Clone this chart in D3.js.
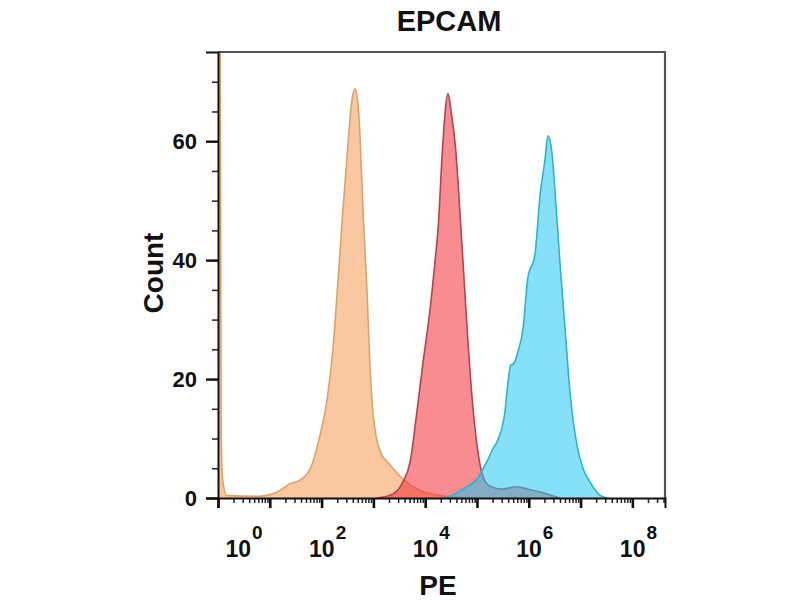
<!DOCTYPE html>
<html>
<head>
<meta charset="utf-8">
<script src="https://cdn.jsdelivr.net/npm/d3@7"></script>
<style>
  body { margin: 0; background: #fff; }
  text { font-family: "Liberation Sans", Arial, sans-serif; font-weight: bold; fill: #111; }
</style>
</head>
<body>
<div id="chart"></div>
<script>
// Histogramas EPCAM (PE), eje x en log10(PE)

const titulo = "EPCAM"
const tituloX = "PE"
const tituloY = "Count"

// muestra 1 (naranja)
const naranjaLogPE = [0, 0.04, 0.06, 0.09, 0.17, 0.81, 1.14, 1.39, 1.58, 1.78, 1.97, 2.10, 2.22, 2.32, 2.41, 2.51, 2.58, 2.645, 2.71, 2.74, 2.80, 2.88, 2.93, 2.99, 3.13, 3.32, 3.57, 3.84, 4.23, 4.86]
const naranjaCount = [90, 90, 12, 3, 0.4, 0.3, 1.0, 2.4, 3.0, 4.9, 10.6, 16.2, 25.1, 36.9, 48.2, 59.5, 66.5, 68.8, 65.5, 61.2, 48.2, 34.2, 22.9, 14.5, 7.8, 5.6, 3.2, 1.5, 0.5, 0]

// muestra 2 (rojo)
const rojoLogPE = [3.07, 3.38, 3.57, 3.71, 3.84, 3.96, 4.09, 4.19, 4.25, 4.34, 4.44, 4.50, 4.59, 4.65, 4.73, 4.81, 4.90, 5.00, 5.12, 5.25, 5.50, 5.77, 5.97, 6.22, 6.41, 6.60]
const rojoCount = [0, 0.7, 2.7, 6.1, 14.5, 22.9, 31.4, 39.8, 45.4, 59.5, 68.0, 65.0, 58.5, 51.0, 39.8, 28.5, 17.4, 8.9, 3.5, 2.0, 1.5, 1.9, 1.5, 1.0, 0.5, 0]

// muestra 3 (azul)
const azulLogPE = [4.38, 4.54, 4.73, 5.00, 5.19, 5.31, 5.41, 5.54, 5.60, 5.65, 5.71, 5.79, 5.89, 5.98, 6.12, 6.22, 6.31, 6.37, 6.45, 6.51, 6.60, 6.70, 6.80, 6.93, 7.05, 7.18, 7.37, 7.51]
const azulCount = [0, 0.5, 1.5, 3.2, 6.1, 8.3, 9.9, 14.5, 19.5, 22.3, 22.6, 24.6, 28.5, 36.9, 41.0, 51.1, 56.7, 60.9, 57.8, 51.1, 39.8, 28.5, 17.4, 8.9, 4.9, 2.7, 0.5, 0]

const yTicks = [0, 20, 40, 60]
const xDecadas = [0, 1, 2, 3, 4, 5, 6, 7, 8]
const xEtiquetas = [0, 2, 4, 6, 8]

// Dimensiones
const anchoTotal = 800
const altoTotal = 600
const margins = { top: 52, right: 135, bottom: 103, left: 218 }
const ancho = anchoTotal - margins.left - margins.right
const alto = altoTotal - margins.top - margins.bottom

const svg = d3.select("#chart")
  .append("svg")
    .attr("width", anchoTotal)
    .attr("height", altoTotal)

const g = svg.append("g")
  .attr("transform", `translate(${margins.left},${margins.top})`)

// Escalas
const x = d3.scaleLog()
  .domain([1, Math.pow(10, 8.63)])
  .range([0, ancho])

const y = d3.scaleLinear()
  .domain([0, 75])
  .range([alto + 1, 0])

g.append("clipPath")
    .attr("id", "clip")
  .append("rect")
    .attr("width", ancho)
    .attr("height", alto + 1)

// rellenos semitransparentes (opacidad 0.55)
const series = [
  { logs: naranjaLogPE, counts: naranjaCount, fill: "#f69b52", stroke: "#d9a46c" },
  { logs: rojoLogPE, counts: rojoCount, fill: "#f22e37", stroke: "#b3444f" },
  { logs: azulLogPE, counts: azulCount, fill: "#23c7f0", stroke: "#2fb3c9" },
]

const area = d3.area()
  .x(d => x(Math.pow(10, d[0])))
  .y0(y(0))
  .y1(d => y(d[1]))
  .curve(d3.curveMonotoneX)

const linea = d3.line()
  .x(d => x(Math.pow(10, d[0])))
  .y(d => y(d[1]))
  .curve(d3.curveMonotoneX)

const hist = g.append("g").attr("clip-path", "url(#clip)")

series.forEach(s => {
  const datos = s.logs.map((l, i) => [l, s.counts[i]])
  hist.append("path")
    .datum(datos)
    .attr("d", area)
    .attr("fill", s.fill)
    .attr("fill-opacity", 0.55)
  hist.append("path")
    .datum(datos)
    .attr("d", linea)
    .attr("fill", "none")
    .attr("stroke", s.stroke)
    .attr("stroke-width", 1.6)
})

// marco superior y derecho
g.append("path")
  .attr("d", `M0,0H${ancho}V${alto + 1}`)
  .attr("fill", "none")
  .attr("stroke", "#555")
  .attr("stroke-width", 2.2)

// Eje Y: menores cada 5
g.append("g")
  .call(d3.axisLeft(y).tickValues(d3.range(0, 75, 5)).tickSize(6).tickFormat(""))
  .call(a => a.select(".domain").remove())
  .selectAll("line").attr("stroke", "#222").attr("stroke-width", 1.5)

const ejeY = g.append("g")
  .call(d3.axisLeft(y).tickValues(yTicks).tickSize(12).tickPadding(9))
ejeY.select(".domain").attr("stroke", "#111").attr("stroke-width", 2)
ejeY.selectAll("line").attr("stroke", "#111").attr("stroke-width", 2.4)
ejeY.selectAll("text").attr("font-size", 22).attr("fill", "#111")
  .attr("font-family", "'Liberation Sans', Arial, sans-serif")

// Eje X: menores log
const menores = []
xDecadas.forEach(k => {
  for (let m = 2; m <= 9; m++) {
    const v = m * Math.pow(10, k)
    if (v <= x.domain()[1]) menores.push(v)
  }
})

const gx = g.append("g").attr("transform", `translate(0,${alto + 1})`)
gx.append("g")
  .call(d3.axisBottom(x).tickValues(menores).tickSize(5).tickFormat(""))
  .call(a => a.select(".domain").remove())
  .selectAll("line").attr("stroke", "#222").attr("stroke-width", 1.5)

const ejeX = gx.append("g")
  .call(d3.axisBottom(x).tickValues(xDecadas.map(k => Math.pow(10, k))).tickSize(10).tickFormat(""))
ejeX.select(".domain").attr("stroke", "#111").attr("stroke-width", 2)
ejeX.selectAll("line").attr("stroke", "#111").attr("stroke-width", 2.6)

// etiquetas 10^n
const etiquetas = gx.selectAll(".etq")
  .data(xEtiquetas)
  .enter()
  .append("text")
    .attr("class", "etq")
    .attr("x", d => x(Math.pow(10, d)) - 12.5 + (d === 0 ? 20 : 0))
    .attr("y", 59)
    .attr("font-size", 23)
etiquetas.append("tspan").text("10")
etiquetas.append("tspan")
  .attr("dy", -18)
  .attr("dx", 1)
  .attr("font-size", 19)
  .text(d => d)

// Titulos
svg.append("text")
  .attr("x", 449)
  .attr("y", 31)
  .attr("text-anchor", "middle")
  .attr("font-size", 29)
  .text(titulo)

svg.append("text")
  .attr("x", 438)
  .attr("y", 595)
  .attr("text-anchor", "middle")
  .attr("font-size", 28)
  .text(tituloX)

svg.append("text")
  .attr("transform", "translate(163,273) rotate(-90)")
  .attr("text-anchor", "middle")
  .attr("font-size", 28)
  .text(tituloY)
</script>
</body>
</html>
